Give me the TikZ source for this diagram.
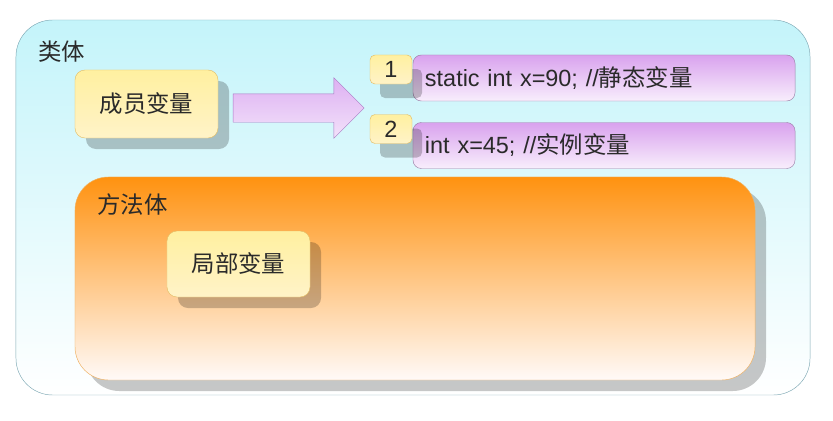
\documentclass[tikz,border=0pt]{standalone}
\usepackage{fontspec}
\setmainfont{Liberation Sans}
\newfontfamily\cjk{Noto Sans CJK SC}
\usetikzlibrary{shapes.arrows,shadows}

\definecolor{classline}{HTML}{7FA9B5}
\definecolor{classtop}{HTML}{C4F4FA}
\definecolor{noteline}{HTML}{E3BE66}
\definecolor{notetop}{HTML}{FFF0A0}
\definecolor{notemid}{HTML}{FFFDEC}
\definecolor{notebottom}{HTML}{FFF3C8}
\definecolor{codeline}{HTML}{9C80A8}
\definecolor{codetop}{HTML}{D9A2EE}
\definecolor{codebottom}{HTML}{F8EEFC}
\definecolor{arrowline}{HTML}{A878C4}
\definecolor{arrowtop}{HTML}{DDB0F2}
\definecolor{arrowbottom}{HTML}{F3E2FA}
\definecolor{methodline}{HTML}{EFB060}
\definecolor{methodtop}{HTML}{FF9210}
\definecolor{methodbottom}{HTML}{FFFAF8}
\definecolor{textgray}{HTML}{2A2A2A}

\tikzset{
    boxshadow/.style={drop shadow={shadow xshift=0.33cm, shadow yshift=-0.33cm, fill=black, opacity=0.22}},
    notebox/.style={draw=noteline, rounded corners=0.3cm, top color=notetop, middle color=notemid, bottom color=notebottom, boxshadow, inner sep=0},
    numbox/.style={draw=noteline, rounded corners=0.15cm, top color=notetop, middle color=notemid, bottom color=notebottom, drop shadow={shadow xshift=0.3cm, shadow yshift=-0.42cm, fill=black, opacity=0.22}, minimum width=1.26cm, minimum height=0.87cm, inner sep=0},
    codebox/.style={draw=codeline, rounded corners=0.25cm, top color=codetop, bottom color=codebottom, text width=10.74cm, align=left, inner xsep=0.36cm, minimum height=1.38cm, inner ysep=0},
    boxtitle/.style={anchor=west, inner sep=0, font=\cjk\fontsize{20}{24}\selectfont}
}

\begin{document}
\begin{tikzpicture}[x=0.03cm, y=-0.03cm, font=\fontsize{20}{24}\selectfont, text=textgray]
        \useasboundingbox (0,0) rectangle (833,421);

        \node[draw=classline, rounded corners=1.1cm, top color=classtop, bottom color=white, minimum width=23.82cm, minimum height=11.25cm] (classbody) at (413, 207.5) {};
        \node[boxtitle] (classtitle) at (38, 52) {类体};

        \node[notebox, minimum width=4.29cm, minimum height=2.04cm, font=\cjk\fontsize{20}{24}\selectfont] (member) at (146.5, 104) {成员变量};

        \node[single arrow, draw=arrowline, top color=arrowtop, bottom color=arrowbottom, minimum height=3.93cm, minimum width=1.8cm, single arrow head extend=0.48cm, inner xsep=0, inner ysep=0.42cm] (fieldarrow) at (291.5, 108) {};

        \node[codebox] (staticvar) at (604, 78) {static int x=90; //{\cjk 静态变量}};
        \node[codebox] (instancevar) at (604, 145.5) {int x=45; //{\cjk 实例变量}};

        \node[numbox] (num1) at (391, 69.5) {1};
        \node[numbox] (num2) at (391, 129) {2};

        \node[draw=methodline, rounded corners=1cm, top color=methodtop, bottom color=methodbottom, boxshadow, minimum width=20.4cm, minimum height=6.09cm] (method) at (415, 278.5) {};
        \node[boxtitle] (methodtitle) at (97, 205) {方法体};

        \node[notebox, minimum width=4.29cm, minimum height=1.98cm, font=\cjk\fontsize{20}{24}\selectfont] (local) at (238.5, 264) {局部变量};

\end{tikzpicture}
\end{document}
